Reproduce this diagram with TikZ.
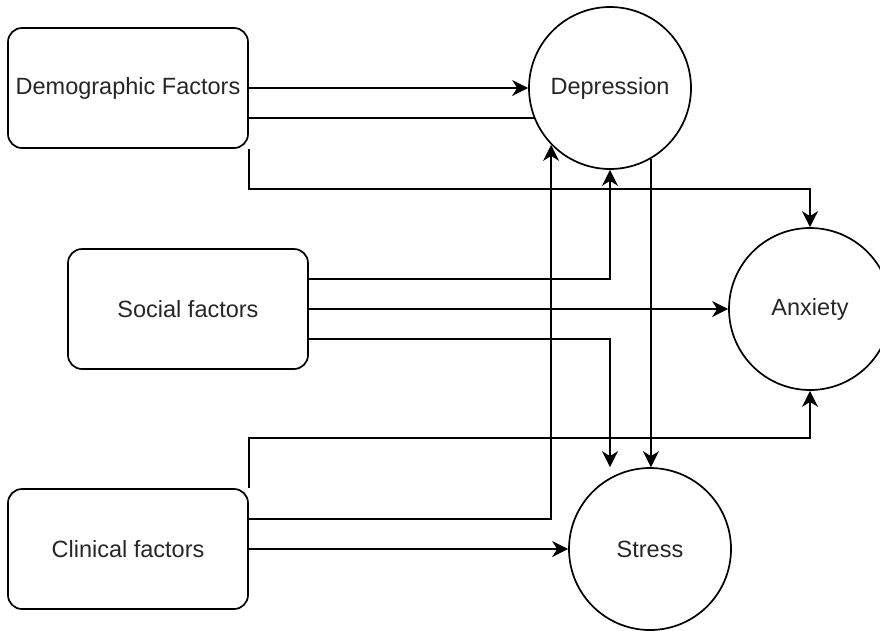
\documentclass[tikz,border=0pt]{standalone}
\usepackage{fontspec}
\setmainfont{Liberation Sans}
\usetikzlibrary{arrows.meta,calc}
\begin{document}
\begin{tikzpicture}[x=1pt,y=-1pt,
  box/.style={draw, line width=1.7pt, rounded corners=14pt, minimum width=240pt, minimum height=120pt, inner sep=0pt, font=\fontsize{23.5}{28}\selectfont, text=black!85},
  circ/.style={draw, circle, line width=1.7pt, minimum size=162pt, inner sep=0pt, font=\fontsize{23.5}{28}\selectfont, text=black!85},
  conn/.style={line width=1.8pt},
  arr/.style={conn, -{Stealth[length=16pt,width=16pt,inset=5pt]}}]
\useasboundingbox (0,0) rectangle (880,630);
\clip (0,0) rectangle (880,630);
% nodes
\node[box] (demo) at (128,88) {Demographic Factors};
\node[box] (soc) at (188,309) {Social factors};
\node[box] (clin) at (128,549) {Clinical factors};
\node[circ] (dep) at (610,88) {Depression};
\node[circ] (anx) at (810,309) {Anxiety};
\node[circ] (str) at (650,549) {Stress};
% auxiliary start points
\coordinate (d2) at ($(demo.east)+(0,30)$);
\coordinate (s1) at ($(soc.east)+(0,-30)$);
\coordinate (s3) at ($(soc.east)+(0,30)$);
\coordinate (c1) at ($(clin.east)+(0,-30)$);
% connectors
\draw[arr] (demo.east) -- (dep.west);
\draw[conn] (d2) -- (d2 -| dep.202);
\draw[arr] (demo.south east) -- ++(0,40) -| (anx.north);
\draw[arr] (s1) -| (dep.south);
\draw[arr] (soc.east) -- (anx.west);
\draw[arr] (s3) -| (dep.south |- str.north);
\draw[arr] (dep.300) -- (dep.300 |- str.north);
\draw[arr] (clin.north east) -- ++(0,-50) -| (anx.south);
\draw[arr] (c1) -| (dep.224);
\draw[arr] (clin.east) -- (str.west);
\end{tikzpicture}
\end{document}
